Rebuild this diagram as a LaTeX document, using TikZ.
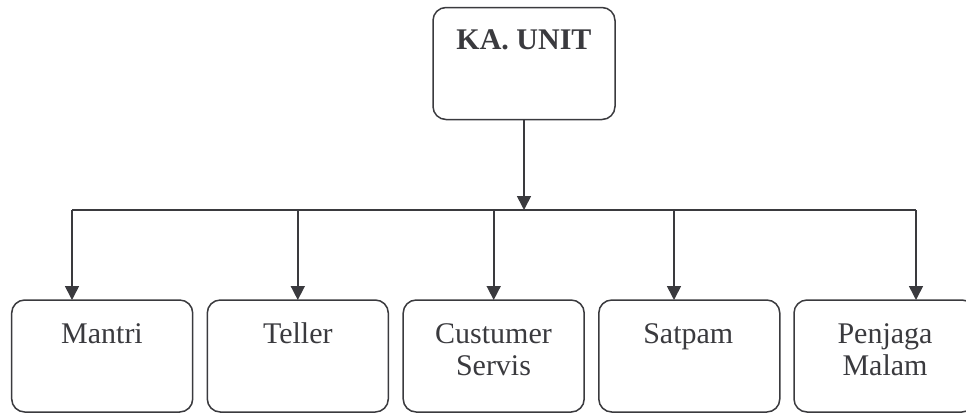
\documentclass[tikz,border=0pt]{standalone}
\usepackage{fontspec}
\setmainfont{Liberation Serif}
\usetikzlibrary{arrows.meta}
\definecolor{ink}{RGB}{58,58,62}
\begin{document}
\begin{tikzpicture}[x=1pt,y=-1pt,
  box/.style={draw=ink,line width=1.5pt,rounded corners=13pt,rectangle,
    inner sep=0pt,outer sep=0pt,minimum height=112pt},
  lbl/.style={text=ink,font=\fontsize{30}{32.5}\selectfont,align=center,anchor=base,inner sep=0pt},
  conn/.style={draw=ink,line width=1.6pt},
  arr/.style={conn,-{Triangle[length=14pt,width=14pt]}}]
\useasboundingbox (0,0) rectangle (966,413);
% top box
\node[box,minimum width=182pt] (ka) at (524,63.5) {};
\node[lbl,font=\fontsize{30}{33}\selectfont\bfseries] (kat) at (524,49) {KA. UNIT};
% bottom boxes
\node[box,minimum width=181pt] (mantri) at (102.2,356) {};
\node[box,minimum width=181pt] (teller) at (297.8,356) {};
\node[box,minimum width=181pt] (cs) at (493.7,356) {};
\node[box,minimum width=181pt] (satpam) at (689.3,356) {};
\node[box,minimum width=181pt] (pm) at (884.5,356) {};
\node[lbl] (t1) at (102,343) {Mantri};
\node[lbl] (t2) at (297.8,343) {Teller};
\node[lbl] (t3) at (493.5,375.5) {Custumer\\Servis};
\node[lbl] (t4) at (688.3,343) {Satpam};
\node[lbl] (t5) at (885,375.5) {Penjaga\\Malam};
% bus
\coordinate (bus) at (524,210);
\coordinate (b1) at (72,210);
\coordinate (b2) at (297.8,210);
\coordinate (b3) at (493.7,210);
\coordinate (b4) at (674,210);
\coordinate (b5) at (916,210);
\draw[arr] (ka.south) -- (bus);
\draw[conn] (b1) -- (b5);
\draw[arr] (b1) -- (b1 |- mantri.north);
\draw[arr] (b2) -- (b2 |- teller.north);
\draw[arr] (b3) -- (b3 |- cs.north);
\draw[arr] (b4) -- (b4 |- satpam.north);
\draw[arr] (b5) -- (b5 |- pm.north);
\end{tikzpicture}
\end{document}
